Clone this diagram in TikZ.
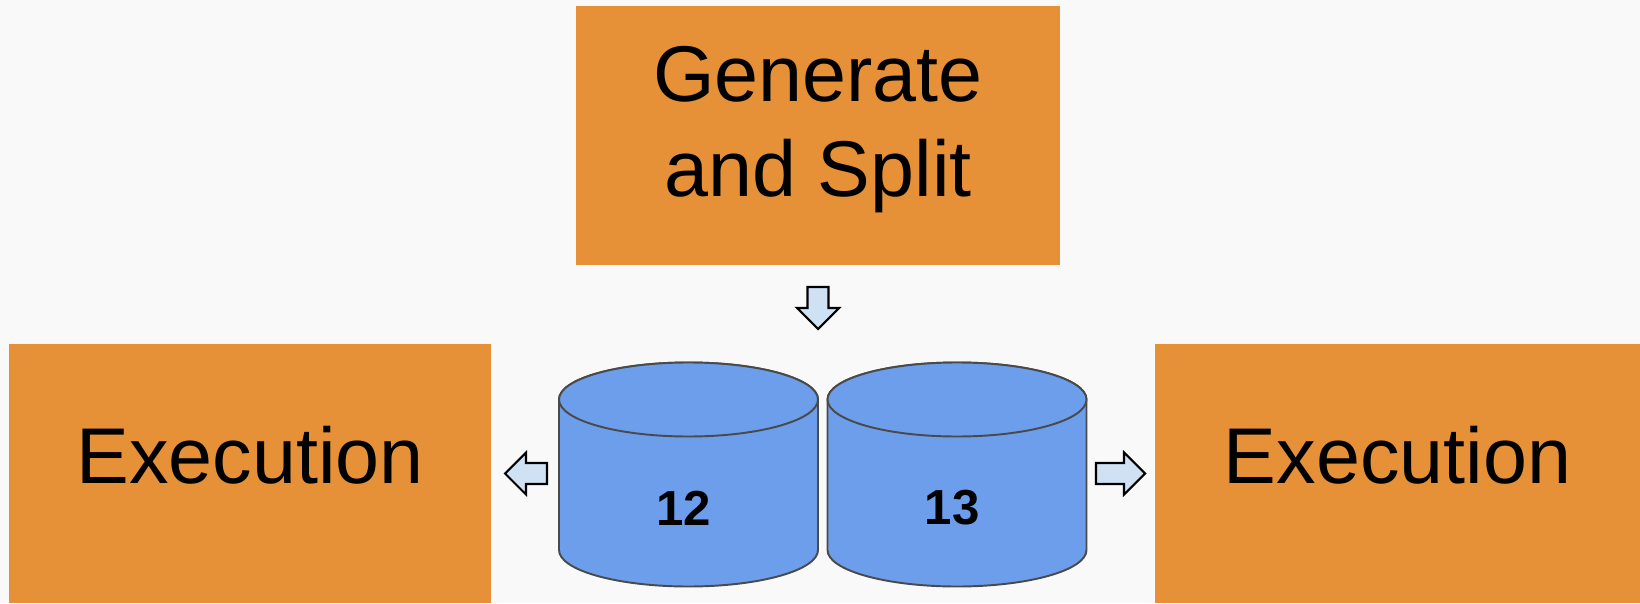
\documentclass[tikz,border=0pt]{standalone}
\usepackage{fontspec}
\setmainfont{Liberation Sans}
\definecolor{boxorange}{HTML}{E69138}
\definecolor{diskblue}{HTML}{6D9EEB}
\definecolor{arrowblue}{HTML}{CFE2F3}
\definecolor{diskedge}{HTML}{4A4A4A}
\definecolor{pagegray}{HTML}{F9F9F9}
\tikzstyle{taskbox} = [rectangle, fill=boxorange, inner sep=0pt, minimum height=5.18cm]
\tikzstyle{tasktext} = [inner sep=0pt, anchor=base, font=\fontsize{45}{54}\selectfont]
\tikzstyle{disk} = [fill=diskblue, draw=diskedge, line width=1.1pt]
\tikzstyle{disklabel} = [inner sep=0pt, font=\fontsize{28}{30}\selectfont\bfseries]
\tikzstyle{blockarrow} = [fill=arrowblue, draw=black, line width=1.2pt, line join=miter]
\tikzset{shiftarrow/.pic={
    \draw[blockarrow] (0,0) -- (-0.42,0.42) -- (-0.42,0.21) -- (-#1,0.21) -- (-#1,-0.21) -- (-0.42,-0.21) -- (-0.42,-0.42) -- cycle;
}}

\begin{document}
\begin{tikzpicture}
                \fill [pagegray] (0,0) rectangle (32.8,12.06);
                \useasboundingbox (0,0) rectangle (32.8,12.06);
                \node [taskbox, minimum width=9.68cm] (gen) at (16.36,9.35) {};
                \node [tasktext] (genA) at (16.36,10.02) {Generate};
                \node [tasktext] (genB) at (16.36,8.12) {and Split};
                \node [taskbox, minimum width=9.64cm] (execL) at (5.0,2.59) {};
                \node [tasktext] (execLtext) at (5.0,2.4) {Execution};
                \node [taskbox, minimum width=9.7cm] (execR) at (27.95,2.59) {};
                \node [tasktext] (execRtext) at (27.95,2.4) {Execution};
                \foreach \cx/\num in {13.77/12, 19.14/13} {
                    \draw [disk] (\cx-2.59,4.07) -- (\cx-2.59,1.06) arc (180:360:2.59 and 0.73) -- (\cx+2.59,4.07) arc (0:180:2.59 and 0.74) -- cycle;
                    \draw [disk] (\cx,4.07) ellipse (2.59 and 0.74);
                    \node [disklabel] (disk\num) at (\cx-0.1,1.9) {\num};
                }
                \pic [rotate=-90] at (16.36,5.48) {shiftarrow=0.84};
                \pic [rotate=180] at (10.1,2.59) {shiftarrow=0.84};
                \pic at (22.9,2.59) {shiftarrow=0.98};
            \end{tikzpicture}
\end{document}
